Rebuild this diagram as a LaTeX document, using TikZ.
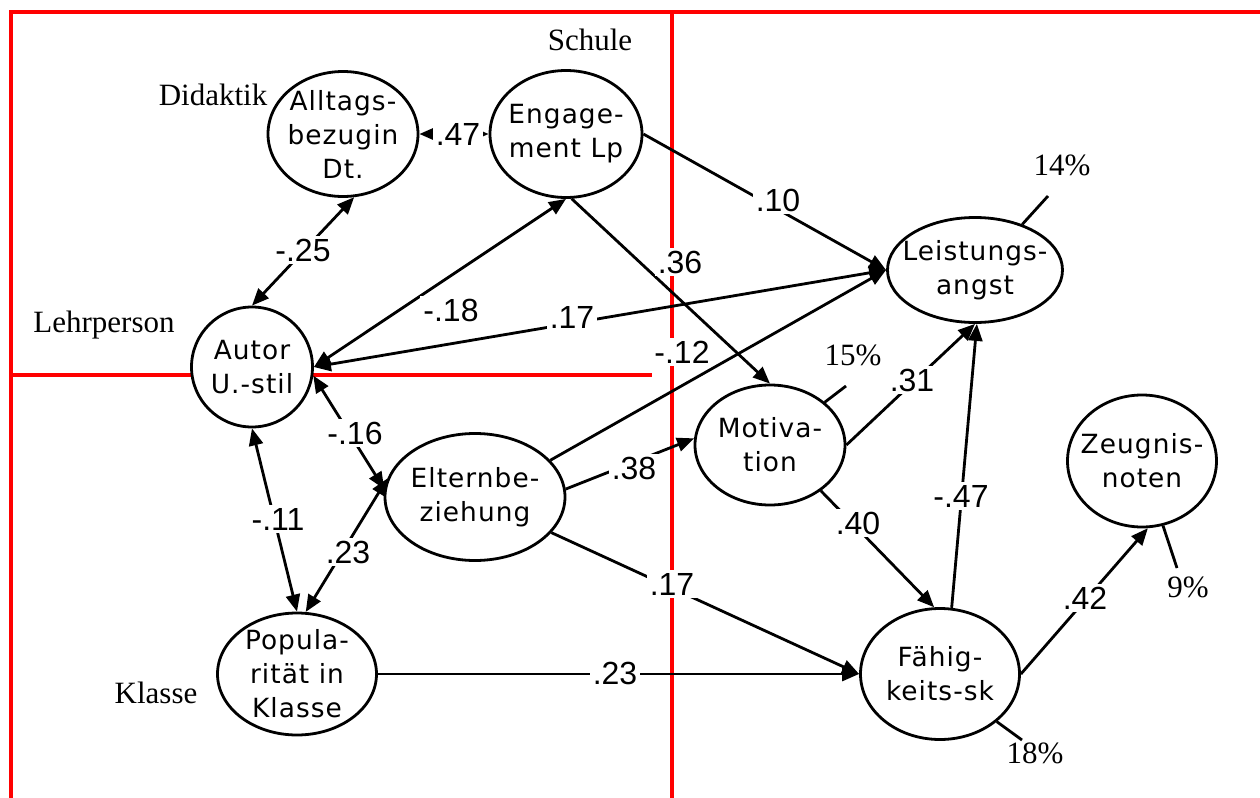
\documentclass[tikz,border=0pt]{standalone}
\usepackage{fontspec}
\setmainfont{Liberation Serif}
\newfontfamily\nodefont{DejaVu Sans}[LetterSpace=4]
\newfontfamily\coeffont{Liberation Sans}
\usetikzlibrary{arrows.meta,shapes.geometric}
\definecolor{partline}{RGB}{255,0,0}

\tikzset{
  latent/.style={draw,ellipse,fill=white,line width=1.4pt,inner sep=-15pt,align=center,
    font={\nodefont\fontsize{13.2}{17}\selectfont}},
  effect/.style={line width=1.4pt,-{Triangle[length=8.5pt,width=7pt]}},
  corr/.style={line width=1.4pt,{Triangle[length=8.5pt,width=7pt]}-{Triangle[length=8.5pt,width=7pt]}},
  resid/.style={line width=1.4pt},
  coef/.style={fill=white,inner sep=1.5pt,font={\coeffont\fontsize{16}{18}\selectfont}},
  area/.style={inner sep=0pt,font={\fontsize{15.5}{18}\selectfont}},
  part/.style={draw=partline,line width=1.7pt}
}

\begin{document}
\begin{tikzpicture}[x=0.5pt,y=0.5pt,yscale=-1,xscale=1]
\useasboundingbox (0,0) rectangle (1260,798);

% Areas
\draw[part] (11,798) -- (11,12) -- (1260,12);
\draw[part] (672,12) -- (672,798);
\draw[part] (11,375) -- (652,375);

\node[area] (didaktik) at (213,95) {Didaktik};
\node[area] (schule) at (590,40) {Schule};
\node[area] (lehrperson) at (104,325) {Lehrperson};
\node[area] (klasse) at (156,693) {Klasse};

% Latent variables
\node[latent,minimum width=75pt,minimum height=62.5pt] (alltags) at (343,134) {Alltags-\\bezugin\\Dt.};
\node[latent,minimum width=76pt,minimum height=63.5pt] (eng) at (566,134) {Engage-\\ment Lp};
\node[latent,minimum width=60.5pt,minimum height=60pt] (autor) at (252,367) {Autor\\U.-stil};
\node[latent,minimum width=90pt,minimum height=63.5pt] (eltern) at (475,497) {Elternbe-\\ziehung};
\node[latent,minimum width=79.5pt,minimum height=61pt] (pop) at (297,674) {Popula-\\rität in\\Klasse};
\node[latent,minimum width=87.5pt,minimum height=52.5pt] (angst) at (975,270) {Leistungs-\\angst};
\node[latent,minimum width=75pt,minimum height=60pt] (motiv) at (770,445) {Motiva-\\tion};
\node[latent,minimum width=79.5pt,minimum height=65.5pt] (faehig) at (940,674) {Fähig-\\keits-sk};
\node[latent,minimum width=74.5pt,minimum height=66pt] (zeugnis) at (1142,461) {Zeugnis-\\noten};

% Correlations
\draw[corr] (alltags.east) -- (eng.west);
\draw[corr] (autor.north) -- (alltags.-80);
\draw[corr] (autor.east) -- (eng.south);
\draw[corr] (autor.east) -- (angst.west);
\draw[corr] (autor.-8) -- (eltern.175);
\draw[corr] (autor.south) -- (pop.north);
\draw[corr] (eltern.168) -- (pop.82);

% Paths
\draw[effect] (eng.east) -- (angst.west);
\draw[effect] (eng.-85) -- (motiv.north);
\draw[effect] (eltern.26) -- (angst.west);
\draw[effect] (eltern.5) -- (motiv.175);
\draw[effect] (eltern.-25) -- (faehig.west);
\draw[effect] (pop.east) -- (faehig.west);
\draw[effect] (motiv.east) -- (angst.south);
\draw[effect] (motiv.-42) -- (faehig.95);
\draw[effect] (faehig.80) -- (angst.-88);
\draw[effect] (faehig.east) -- (zeugnis.-85);

% Residuals
\coordinate (r14) at (1048,196);
\coordinate (r15) at (846,386);
\coordinate (r9) at (1177,568);
\coordinate (r18) at (1022,740);
\draw[resid] (angst.44) -- (r14);
\draw[resid] (motiv.38) -- (r15);
\draw[resid] (zeugnis.-72) -- (r9);
\draw[resid] (faehig.-40) -- (r18);
\node[area] (p14) at (1062,165) {14\%};
\node[area] (p15) at (853,355) {15\%};
\node[area] (p9) at (1188,587) {9\%};
\node[area] (p18) at (1035,753) {18\%};

% Coefficients
\node[coef] (c47) at (458,134) {.47};
\node[coef] (c25) at (303,250) {-.25};
\node[coef] (c18) at (451,310) {-.18};
\node[coef] (c17a) at (572,317) {.17};
\node[coef] (c10) at (778,200) {.10};
\node[coef] (c36) at (680,262) {.36};
\node[coef] (c12) at (682,352) {-.12};
\node[coef] (c16) at (355,433) {-.16};
\node[coef] (c11) at (278,519) {-.11};
\node[coef] (c23a) at (348,552) {.23};
\node[coef] (c38) at (634,468) {.38};
\node[coef] (c17b) at (672,584) {.17};
\node[coef] (c23b) at (615,673) {.23};
\node[coef] (c31) at (912,380) {.31};
\node[coef] (c40) at (858,523) {.40};
\node[coef] (c47b) at (961,496) {-.47};
\node[coef] (c42) at (1085,598) {.42};

\end{tikzpicture}
\end{document}
